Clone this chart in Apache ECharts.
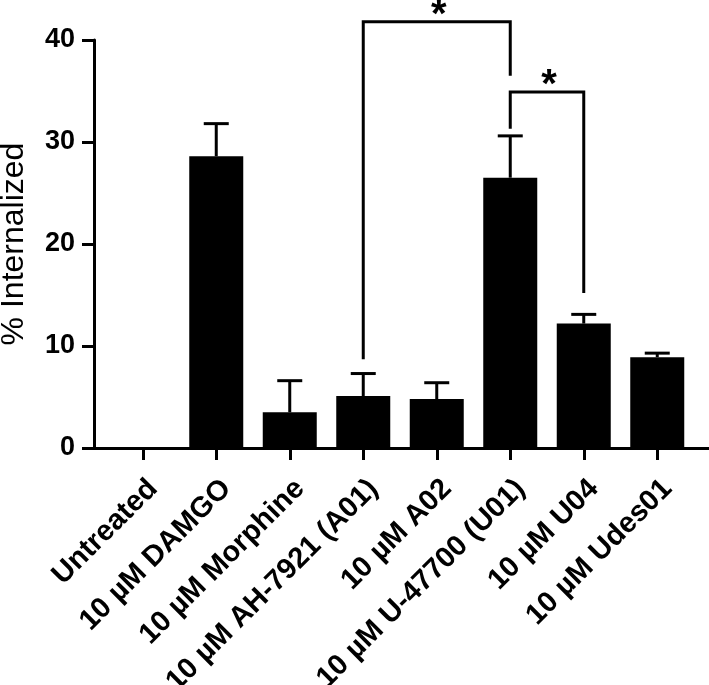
<!DOCTYPE html>
<html>
<head>
<meta charset="utf-8">
<script src="https://cdn.jsdelivr.net/npm/echarts@6/dist/echarts.min.js"></script>
<style>
  html, body { margin: 0; padding: 0; background: #fff; }
  #chart { width: 709px; height: 685px; }
</style>
</head>
<body>
<div id="chart"></div>
<script>
  // 数据
  const categories = ['Untreated', '10 µM DAMGO', '10 µM Morphine', '10 µM AH-7921 (A01)',
    '10 µM A02', '10 µM U-47700 (U01)', '10 µM U04', '10 µM Udes01']
  const means = [0, 28.6, 3.5, 5.1, 4.8, 26.5, 12.2, 8.9]
  const errors = [0, 3.2, 3.1, 2.2, 1.6, 4.1, 0.9, 0.4]
  const yTicks = [0, 10, 20, 30, 40]
  // 显著性标记: [左类目, 右类目, 顶部, 左端底部, 右端底部]
  const brackets = [
    [3, 5, 41.8, 8.7, 36.5],
    [5, 6, 34.9, 31.3, 15.2]
  ]
  const starLabels = ['*', '*']

  const font = 'Liberation Sans, Arial, sans-serif'
  const chart = echarts.init(document.getElementById('chart'))

  const option = {
    animation: false,
    backgroundColor: '#ffffff',
    grid: [
      // 柱子所在网格
      { left: 106, right: 15, top: 40, bottom: 237, outerBoundsMode: 'none' },
      // 坐标轴线所在网格
      { left: 94, right: 0, top: 40, bottom: 237, outerBoundsMode: 'none' }
    ],
    xAxis: [{
      type: 'category',
      gridIndex: 0,
      data: categories,
      axisLine: { show: false },
      axisTick: {
        show: true,
        alignWithLabel: true,
        length: 12,
        lineStyle: { color: '#000', width: 3 }
      },
      axisLabel: {
        rotate: 45,
        interval: 0,
        margin: 26,
        verticalAlign: 'top',
        color: '#000',
        fontSize: 29,
        fontWeight: 'bold',
        fontFamily: font
      }
    }, {
      type: 'value',
      gridIndex: 1,
      min: 0,
      max: 1,
      axisLine: { show: true, onZero: false, lineStyle: { color: '#000', width: 3 } },
      axisTick: { show: false },
      axisLabel: { show: false },
      splitLine: { show: false }
    }],
    yAxis: [{
      type: 'value',
      gridIndex: 0,
      min: 0,
      max: 40,
      show: false
    }, {
      type: 'value',
      gridIndex: 1,
      min: 0,
      max: 40,
      interval: 10,
      name: '% Internalized',
      nameLocation: 'middle',
      nameGap: 64,
      nameTextStyle: { color: '#000', fontSize: 32, fontFamily: font },
      axisLine: { show: true, onZero: false, lineStyle: { color: '#000', width: 3 } },
      axisTick: { show: true, length: 12, lineStyle: { color: '#000', width: 3 } },
      axisLabel: {
        margin: 19,
        color: '#000',
        fontSize: 27,
        fontWeight: 'bold',
        fontFamily: font,
        customValues: yTicks
      },
      splitLine: { show: false }
    }],
    series: [{
      type: 'bar',
      xAxisIndex: 0,
      yAxisIndex: 0,
      data: means,
      barWidth: 54,
      itemStyle: { color: '#000' }
    }, {
      // 误差线
      type: 'custom',
      xAxisIndex: 0,
      yAxisIndex: 0,
      data: means.map((m, i) => [i, m, m + errors[i]]),
      renderItem: function (params, api) {
        if (api.value(2) <= api.value(1)) return null
        const low = api.coord([api.value(0), api.value(1)])
        const high = api.coord([api.value(0), api.value(2)])
        const capHalf = 12.5
        return {
          type: 'group',
          children: [{
            type: 'line',
            shape: { x1: low[0], y1: low[1], x2: high[0], y2: high[1] },
            style: { stroke: '#000', lineWidth: 3 }
          }, {
            type: 'line',
            shape: { x1: high[0] - capHalf, y1: high[1], x2: high[0] + capHalf, y2: high[1] },
            style: { stroke: '#000', lineWidth: 3 }
          }]
        }
      },
      z: 3
    }, {
      // 显著性括号
      type: 'custom',
      xAxisIndex: 0,
      yAxisIndex: 0,
      clip: false,
      data: brackets,
      renderItem: function (params, api) {
        const x1 = api.value(0), x2 = api.value(1)
        const pLeftLow = api.coord([x1, api.value(3)])
        const pLeftTop = api.coord([x1, api.value(2)])
        const pRightTop = api.coord([x2, api.value(2)])
        const pRightLow = api.coord([x2, api.value(4)])
        return {
          type: 'group',
          children: [{
            type: 'polyline',
            shape: { points: [pLeftLow, pLeftTop, pRightTop, pRightLow] },
            style: { stroke: '#000', lineWidth: 3, fill: null, lineJoin: 'miter' }
          }, {
            type: 'text',
            x: (pLeftTop[0] + pRightTop[0]) / 2 + 2,
            y: pLeftTop[1] + 14,
            style: {
              text: starLabels[params.dataIndex],
              fill: '#000',
              font: 'bold 40px ' + font,
              textAlign: 'center',
              textVerticalAlign: 'bottom'
            }
          }]
        }
      },
      z: 4
    }]
  }

  chart.setOption(option)
  window.addEventListener('resize', () => chart.resize())
</script>
</body>
</html>
